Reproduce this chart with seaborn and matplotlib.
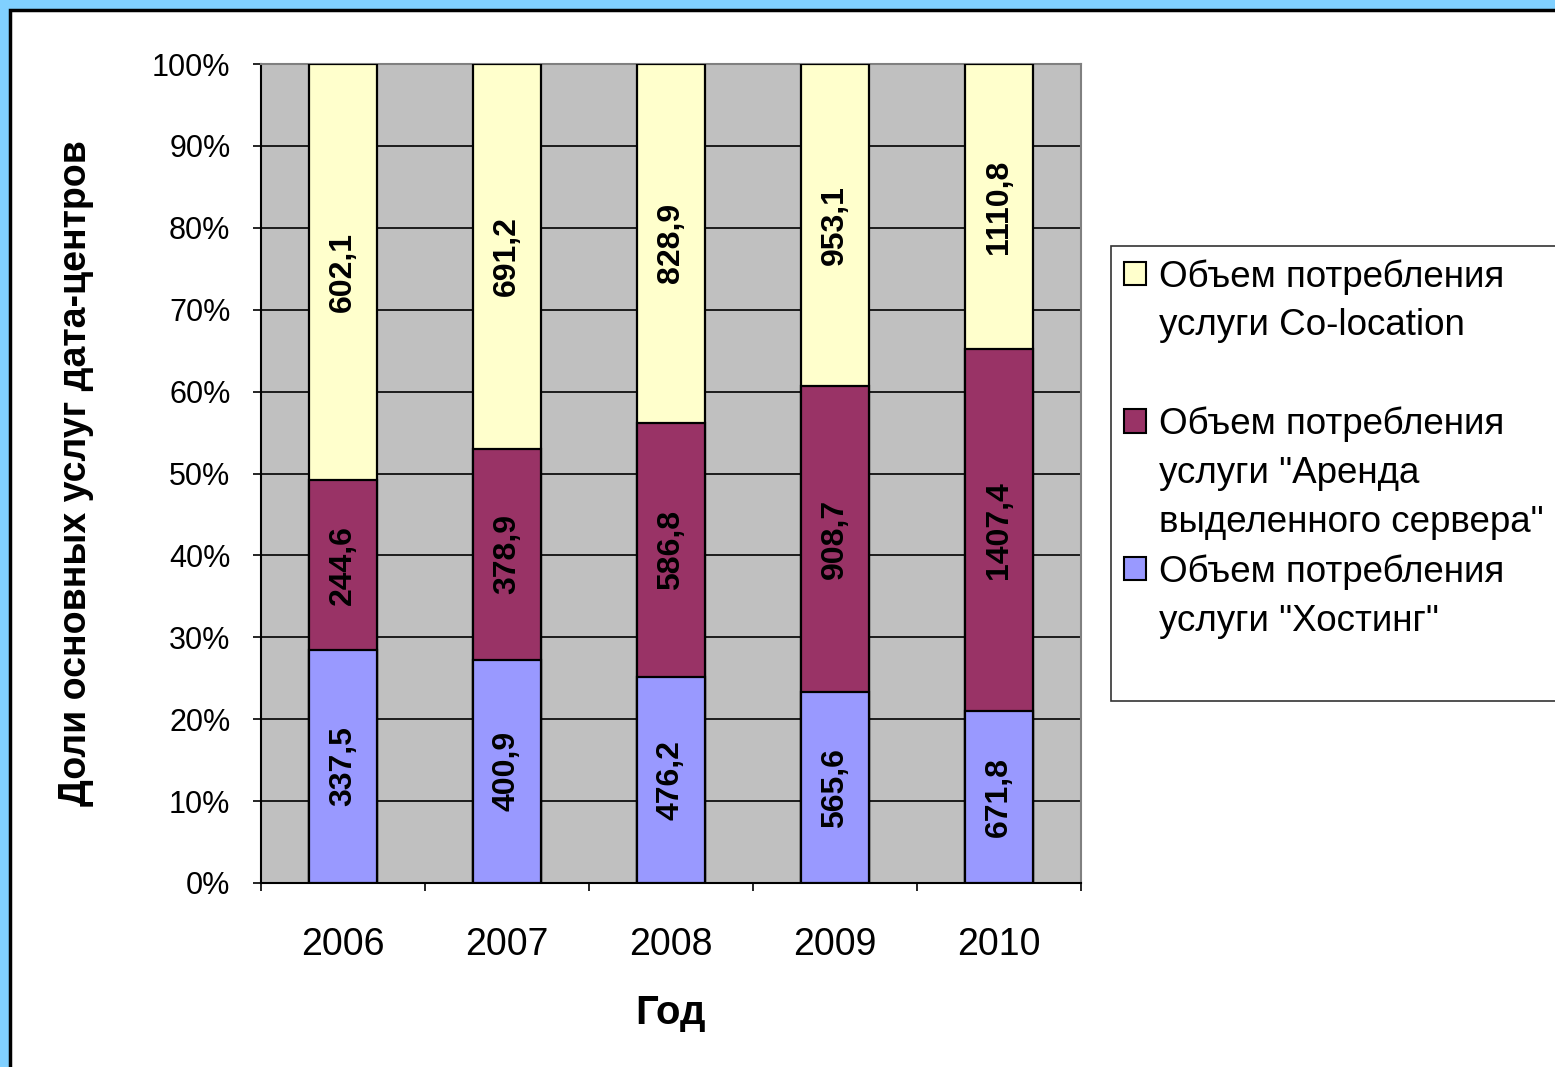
import pandas as pd
import matplotlib
matplotlib.use('Agg')
import matplotlib.pyplot as plt
import matplotlib.patches as mpatches
from matplotlib.ticker import FixedLocator
import seaborn as sns

# data
years = ['2006', '2007', '2008', '2009', '2010']
hosting = [337.5, 400.9, 476.2, 565.6, 671.8]
arenda = [244.6, 378.9, 586.8, 908.7, 1407.4]
coloc = [602.1, 691.2, 828.9, 953.1, 1110.8]
# legend text, one line per entry (None = no colour box)
legend_lines = [('#FFFFCC', 'Объем потребления'), (None, 'услуги Co-location'), (None, ''),
                ('#993366', 'Объем потребления'), (None, 'услуги "Аренда'),
                (None, 'выделенного сервера"'),
                ('#9999FF', 'Объем потребления'), (None, 'услуги "Хостинг"'), (None, '')]
colors = ['#FFFFCC', '#993366', '#9999FF']

df = pd.DataFrame({'year': years, 'hosting': hosting, 'arenda': arenda, 'coloc': coloc})
total = df['hosting'] + df['arenda'] + df['coloc']
df['p_host'] = df['hosting'] / total * 100
df['p_arenda'] = df['arenda'] / total * 100
df['p_coloc'] = df['coloc'] / total * 100
df['cum1'] = df['p_host']
df['cum2'] = df['p_host'] + df['p_arenda']
df['cum3'] = df['cum2'] + df['p_coloc']

sns.set_style('white')
plt.rcParams['font.family'] = ['Liberation Sans', 'DejaVu Sans']
plt.rcParams.update({'text.color': 'black', 'axes.labelcolor': 'black',
                     'xtick.color': 'black', 'ytick.color': 'black'})

fig = plt.figure(figsize=(15.55, 10.67), dpi=100)
fig.patch.set_facecolor('#80D0FF')
fig.patches.append(mpatches.Rectangle((10/1555, -0.05), 1.1, 1 - 10/1067 + 0.05,
                                      transform=fig.transFigure, facecolor='white',
                                      edgecolor='black', linewidth=2.5, zorder=-5))

ax = fig.add_axes([261/1555, 1 - 883/1067, 820/1555, 819/1067])
ax.set_facecolor('#C0C0C0')

# stacked bars drawn as overlapping cumulative totals
for col, c in zip(['cum3', 'cum2', 'cum1'], colors):
    sns.barplot(data=df, x='year', y=col, color=c, width=0.41, saturation=1,
                edgecolor='black', linewidth=1.6, ax=ax, zorder=3)

# value labels in segment centers
for i in range(len(years)):
    segs = [(df['p_host'][i] / 2, hosting[i]),
            (df['cum1'][i] + df['p_arenda'][i] / 2, arenda[i]),
            (df['cum2'][i] + df['p_coloc'][i] / 2, coloc[i])]
    for y, v in segs:
        ax.text(i, y, f'{v:.1f}'.replace('.', ','), rotation=90, ha='center',
                va='center', fontsize=23, fontweight='bold', color='black', zorder=5)

ax.set_ylim(0, 100)
ax.set_xlim(-0.5, 4.5)
ax.set_yticks(range(0, 101, 10))
ax.set_yticklabels([f'{t}%' for t in range(0, 101, 10)], fontsize=22)
ax.yaxis.grid(True, color='black', linewidth=1.2, zorder=1)
ax.set_axisbelow(True)
ax.tick_params(axis='y', which='major', direction='out', length=6, width=1.2,
               color='black', pad=16, left=True)
ax.tick_params(axis='x', which='major', length=0, labelsize=27, pad=32)
ax.xaxis.set_minor_locator(FixedLocator([-0.5, 0.5, 1.5, 2.5, 3.5, 4.5]))
ax.tick_params(axis='x', which='minor', direction='out', length=6, width=1.2,
               color='black', bottom=True)

for s in ['left', 'bottom']:
    ax.spines[s].set_color('black')
    ax.spines[s].set_linewidth(1.5)
for s in ['top', 'right']:
    ax.spines[s].set_color('#808080')
    ax.spines[s].set_linewidth(1.5)

ax.set_xlabel('Год', fontsize=29, fontweight='bold', labelpad=22)
ax.set_ylabel('Доли основных услуг дата-центров', fontsize=27, fontweight='bold', labelpad=42)

handles = []
labels = []
for c, txt in legend_lines:
    if c is None:
        handles.append(mpatches.Patch(facecolor='none', edgecolor='none'))
    else:
        handles.append(mpatches.Patch(facecolor=c, edgecolor='black', linewidth=1.5))
    labels.append(txt)
leg = fig.legend(handles, labels, loc='upper left',
                 bbox_to_anchor=(1111/1555, 1 - 246/1067), bbox_transform=fig.transFigure,
                 fontsize=26.5, frameon=True, fancybox=False, edgecolor='black',
                 handlelength=0.6, handleheight=0.6, handletextpad=0.35,
                 labelspacing=0.38, borderpad=0.35, borderaxespad=0)
leg.get_frame().set_linewidth(1.2)

plt.savefig('out.png', dpi=100, facecolor=fig.get_facecolor())
